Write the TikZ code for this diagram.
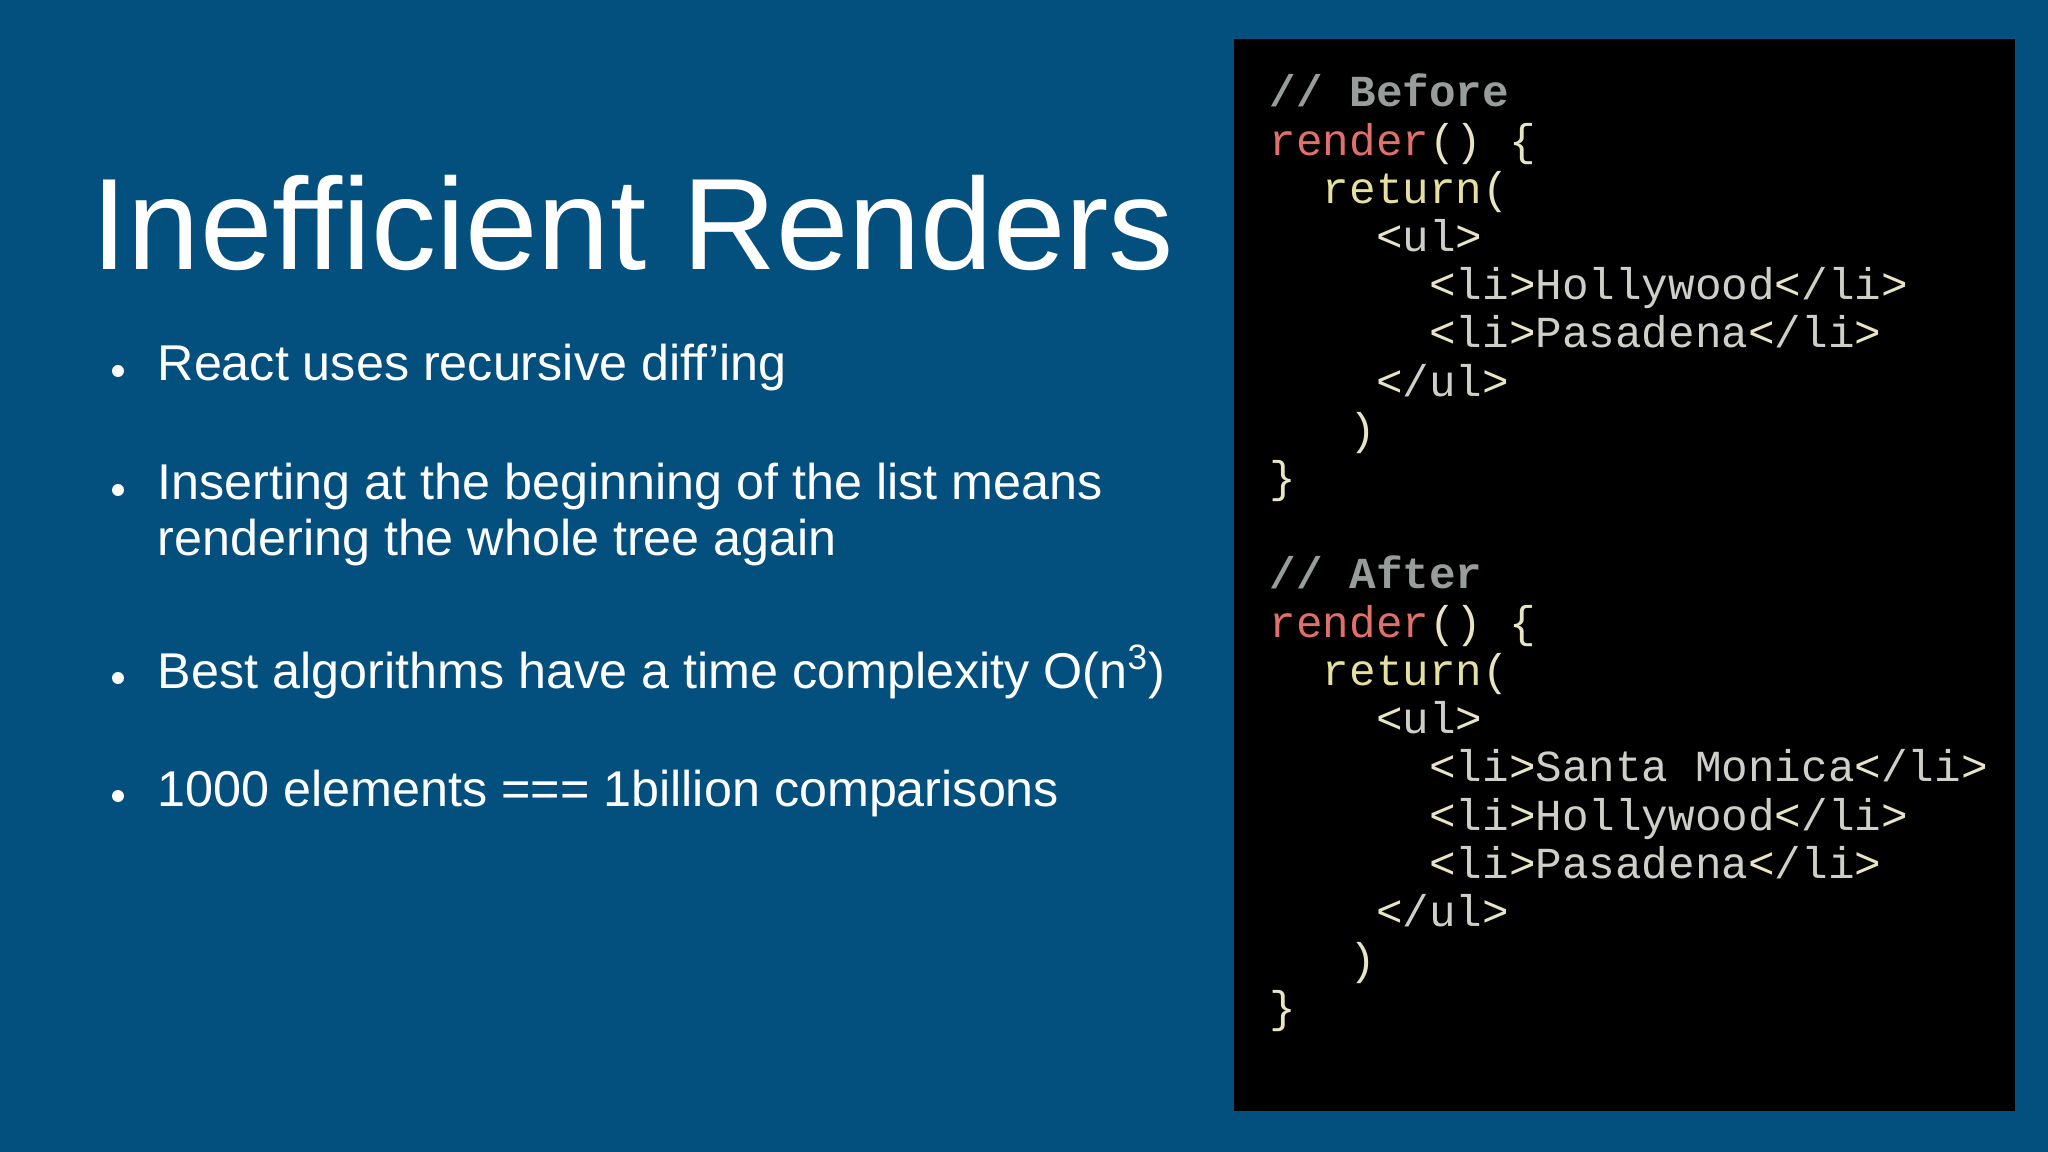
\documentclass[tikz,border=0pt]{standalone}
\usepackage{fontspec}
\setmainfont{Liberation Sans}
\setmonofont{Liberation Mono}
\definecolor{bg}{HTML}{03507F}
\definecolor{cmt}{HTML}{969D9B}
\definecolor{fn}{HTML}{E0706C}
\definecolor{kw}{HTML}{E6E0A0}
\definecolor{pun}{HTML}{E8E4C4}
\definecolor{tg}{HTML}{CFCFC8}
\begin{document}
\begin{tikzpicture}[x=0.01cm,y=-0.01cm,
  txt/.style={anchor=base west,inner sep=0,text=white},
  code/.style={anchor=base west,inner sep=0,font=\ttfamily\fontsize{12.6}{14}\selectfont}]
\useasboundingbox[fill=bg] (0,0) rectangle (2048,1152);
\fill[black] (1234,39) rectangle (2015,1111);
\node[txt,font=\fontsize{37}{40}\selectfont] (title) at (91,270) {Inefficient Renders};
\foreach \y/\t [count=\i] in {381/{React uses recursive diff’ing},500/{Inserting at the beginning of the list means},555/{rendering the whole tree again},688/{Best algorithms have a time complexity O(n\textsuperscript{3})},806/{1000 elements === 1billion comparisons}}
  \node[txt,font=\fontsize{14.3}{16}\selectfont] (b\i) at (157,\y) {\t};
\foreach \y/\i in {381/1,500/2,688/3,806/4}
  \fill[white] (118,\y-10) circle (6) coordinate (d\i);
\def\L#1#2{\node[code] (c#1) at (1269,{107+#1*48.2}) {#2};}
\def\tag#1{\textcolor{pun}{<}\textcolor{tg}{#1}\textcolor{pun}{>}}
\def\li#1{\tag{li}\textcolor{tg}{#1}\tag{/li}}
\L{0}{\textcolor{cmt}{\bfseries// Before}}
\L{1}{\textcolor{fn}{render}\textcolor{pun}{() \{}}
\L{2}{\ \ \textcolor{kw}{return}\textcolor{pun}{ (}}
\L{3}{\ \ \ \ \tag{ul}}
\L{4}{\ \ \ \ \ \ \li{Hollywood}}
\L{5}{\ \ \ \ \ \ \li{Pasadena}}
\L{6}{\ \ \ \ \tag{/ul}}
\L{7}{\ \ \ \textcolor{pun}{)}}
\L{8}{\textcolor{pun}{\}}}
\L{10}{\textcolor{cmt}{\bfseries// After}}
\L{11}{\textcolor{fn}{render}\textcolor{pun}{() \{}}
\L{12}{\ \ \textcolor{kw}{return}\textcolor{pun}{ (}}
\L{13}{\ \ \ \ \tag{ul}}
\L{14}{\ \ \ \ \ \ \li{Santa Monica}}
\L{15}{\ \ \ \ \ \ \li{Hollywood}}
\L{16}{\ \ \ \ \ \ \li{Pasadena}}
\L{17}{\ \ \ \ \tag{/ul}}
\L{18}{\ \ \ \textcolor{pun}{)}}
\L{19}{\textcolor{pun}{\}}}
\end{tikzpicture}
\end{document}
